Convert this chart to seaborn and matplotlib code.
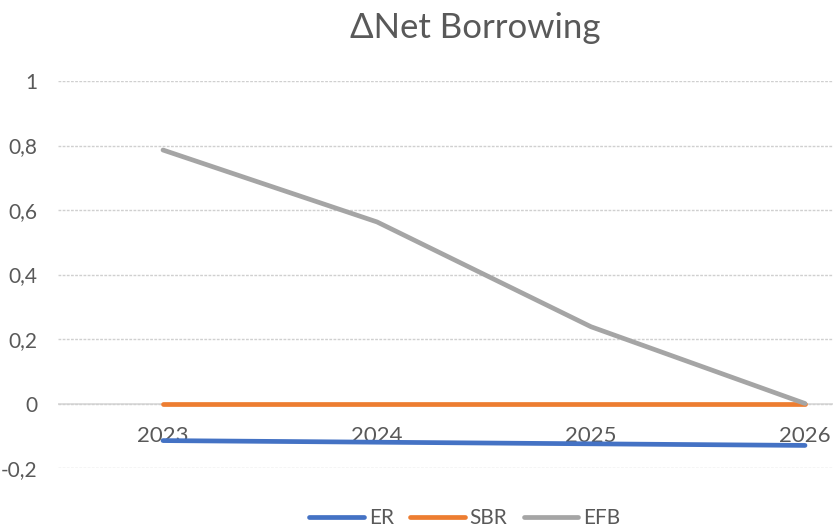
import matplotlib
matplotlib.use("Agg")
import matplotlib.pyplot as plt
import seaborn as sns
import pandas as pd

years = ["2023", "2024", "2025", "2026"]
er = [-0.115, -0.12, -0.125, -0.13]
sbr = [0.0, 0.0, 0.0, 0.0]
efb = [0.786, 0.563, 0.238, 0.0]
series_names = ["ER", "SBR", "EFB"]
colors = ["#4472C4", "#ED7D31", "#A5A5A5"]

rows = []
for name, vals in zip(series_names, [er, sbr, efb]):
    for i, v in enumerate(vals):
        rows.append({"idx": i, "value": v, "series": name})
df = pd.DataFrame(rows)

sns.set_theme(style="white")
plt.rcParams["font.family"] = ["Lato", "DejaVu Sans"]
txt = "#595959"

fig = plt.figure(figsize=(8.33, 5.28), dpi=100)
ax = fig.add_axes([58/833, 1 - 468/528, (833-58)/833, (468-81)/528])

ax.axhline(0, color="#D9D9D9", linewidth=1.2, zorder=0)
sns.lineplot(data=df, x="idx", y="value", hue="series", hue_order=series_names,
             palette=colors, linewidth=3.4, ax=ax, legend=True)
for ln in ax.lines:
    ln.set_solid_capstyle("round")

for s in ax.spines.values():
    s.set_visible(False)
ax.spines["bottom"].set_position(("data", 0))

ax.set_xlim(-(163-58)/214, 3 + (833-805)/214)
ax.set_ylim(-0.2, 1.0)
ax.set_yticks([-0.2, 0, 0.2, 0.4, 0.6, 0.8, 1.0])
ax.set_yticklabels(["-0,2", "0", "0,2", "0,4", "0,6", "0,8", "1"])
ax.tick_params(axis="y", length=0, pad=15, labelsize=15, labelcolor=txt)
ax.yaxis.grid(True, color="#D0D0D0", linewidth=1, linestyle=(0, (2, 1)))
ax.set_axisbelow(True)

ax.set_xticks(range(len(years)))
ax.set_xticklabels(years)
ax.tick_params(axis="x", length=0, pad=16, labelsize=16, labelcolor=txt)
ax.set_xlabel("")
ax.set_ylabel("")

fig.text(475/833, 1 - 28/528, "ΔNet Borrowing", ha="center", va="center",
         fontsize=25, color=txt)

h, l = ax.get_legend_handles_labels()
ax.legend(h, l, loc="center", bbox_to_anchor=(465/833, 1 - 518/528),
          bbox_transform=fig.transFigure, ncol=3, frameon=False, fontsize=15,
          handlelength=2.6, handletextpad=0.25, columnspacing=0.8,
          labelcolor=txt)

fig.savefig("out.png", dpi=100)
